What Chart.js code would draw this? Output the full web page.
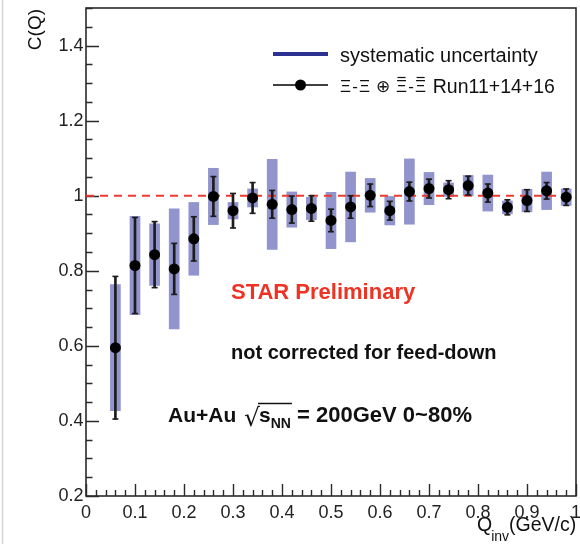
<!DOCTYPE html>
<html>
<head>
<meta charset="utf-8">
<script src="https://cdn.jsdelivr.net/npm/chart.js@4.4.1/dist/chart.umd.min.js"></script>
<style>
  html, body { margin:0; padding:0; background:#fff; }
  #c { display:block; }
</style>
</head>
<body>
<canvas id="c" width="580" height="544"></canvas>
<script>
/* C(Q) for Ξ-Ξ pairs, STAR Au+Au 200 GeV: stat bars + syst boxes, ROOT-like frame. */

const Q_INV   = [0.06,0.10,0.14,0.18,0.22,0.26,0.30,0.34,0.38,0.42,0.46,0.50,
                 0.54,0.58,0.62,0.66,0.70,0.74,0.78,0.82,0.86,0.90,0.94,0.98];
const C_Q     = [0.595,0.814,0.843,0.805,0.885,0.998,0.960,0.994,0.977,0.963,0.966,0.934,
                 0.970,1.001,0.960,1.011,1.019,1.016,1.027,1.007,0.969,0.987,1.013,0.996];
const STAT_ERR= [0.190,0.128,0.088,0.068,0.059,0.053,0.046,0.041,0.037,0.036,0.034,0.030,
                 0.030,0.030,0.025,0.025,0.025,0.024,0.025,0.024,0.020,0.029,0.022,0.022];
const SYS_ERR = [0.168,0.131,0.082,0.160,0.097,0.075,0.022,0.024,0.120,0.047,0.030,0.075,
                 0.093,0.045,0.038,0.087,0.043,0.018,0.027,0.048,0.017,0.030,0.050,0.022];
const REF_LEVEL = 1;

const X_TICKS = [0,0.1,0.2,0.3,0.4,0.5,0.6,0.7,0.8,0.9,1];
const Y_TICKS = [0.2,0.4,0.6,0.8,1,1.2,1.4];
const X_MINOR = 0.02, Y_MINOR = 0.05;

const LEG_SYS  = "systematic uncertainty";
const LEG_DATA = "Ξ-Ξ ⊕ Ξ̄-Ξ̄ Run11+14+16";

const FONT = "'Liberation Sans', Arial, Helvetica, sans-serif";
const AXIS_COL = "#2a2a2a";

const framePlugin = {
  id:"frame",
  beforeDraw(chart){
    const { ctx } = chart;
    ctx.save();
    ctx.strokeStyle = "#d4d4d4"; ctx.lineWidth = 1.5;
    ctx.beginPath(); ctx.moveTo(2.5,0); ctx.lineTo(2.5,544); ctx.stroke();
    ctx.restore();
  },
  beforeDatasetsDraw(chart){
    const { ctx, chartArea:a, scales } = chart;
    const xs = scales.x, ys = scales.y;
    ctx.save();
    ctx.strokeStyle = AXIS_COL; ctx.lineWidth = 1.6;
    ctx.strokeRect(a.left, a.top, a.right-a.left, a.bottom-a.top);
    ctx.beginPath();
    // y ticks (inward)
    for(let v = ys.min; v <= ys.max + 1e-9; v += Y_MINOR){
      const major = Y_TICKS.some(t => Math.abs(t - v) < 1e-6);
      const py = Math.round(ys.getPixelForValue(v)) + 0.5;
      ctx.moveTo(a.left, py); ctx.lineTo(a.left + (major ? 13 : 6.5), py);
    }
    // x ticks (inward)
    for(let v = xs.min; v <= xs.max + 1e-9; v += X_MINOR){
      const major = X_TICKS.some(t => Math.abs(t - v) < 1e-6);
      const px = Math.round(xs.getPixelForValue(v)) + 0.5;
      ctx.moveTo(px, a.bottom); ctx.lineTo(px, a.bottom - (major ? 12 : 6));
    }
    ctx.lineWidth = 1.4;
    ctx.stroke();

    // tick labels
    ctx.fillStyle = "#222";
    ctx.font = "18px " + FONT;
    ctx.textAlign = "right"; ctx.textBaseline = "middle";
    Y_TICKS.forEach(v => ctx.fillText(String(v), a.left - 2.5, ys.getPixelForValue(v) + 0.5));
    ctx.textAlign = "center"; ctx.textBaseline = "alphabetic";
    X_TICKS.forEach(v => ctx.fillText(String(v), xs.getPixelForValue(v), a.bottom + 22));
    ctx.restore();
  }
};

const annotPlugin = {
  id:"annot",
  afterDraw(chart){
    const { ctx } = chart;
    ctx.save();
    ctx.fillStyle = "#111";

    // y title
    ctx.save();
    ctx.translate(36, 9); ctx.rotate(-Math.PI/2);
    ctx.font = "19px " + FONT; ctx.textAlign = "right"; ctx.textBaseline = "middle";
    ctx.fillText("C(Q)", 0, 0);
    ctx.restore();

    // x title Q_inv(GeV/c)
    ctx.textAlign = "left"; ctx.textBaseline = "alphabetic";
    let x = 477;
    ctx.font = "19.5px " + FONT; ctx.fillText("Q", x, 531); x += ctx.measureText("Q").width;
    ctx.font = "14px " + FONT; ctx.fillText("inv", x - 1, 541); x += ctx.measureText("inv").width - 1;
    ctx.font = "19.5px " + FONT; ctx.fillText("(GeV/c)", x, 531);

    // legend
    ctx.strokeStyle = "#2d3192"; ctx.lineWidth = 4;
    ctx.beginPath(); ctx.moveTo(273, 54); ctx.lineTo(328, 54); ctx.stroke();
    ctx.strokeStyle = "#000"; ctx.lineWidth = 1.5;
    ctx.beginPath(); ctx.moveTo(273, 85); ctx.lineTo(328, 85); ctx.stroke();
    ctx.fillStyle = "#000";
    ctx.beginPath(); ctx.arc(300.5, 85, 5.5, 0, Math.PI*2); ctx.fill();

    ctx.fillStyle = "#111";
    ctx.font = "20px " + FONT;
    ctx.fillText(LEG_SYS, 340, 61.5);

    const parts = [["Ξ",0],["-",0],["Ξ",0],[" ⊕ ",0],["Ξ",1],["-",0],["Ξ",1]];
    x = 340;
    ctx.font = "17px " + FONT;
    ctx.strokeStyle = "#111"; ctx.lineWidth = 1.2;
    parts.forEach(([s, bar]) => {
      const w = ctx.measureText(s).width;
      ctx.fillText(s, x, 92);
      if(bar){ ctx.beginPath(); ctx.moveTo(x+1.5, 77.5); ctx.lineTo(x+w-1.5, 77.5); ctx.stroke(); }
      x += w + 1.2;
    });
    ctx.font = "19.5px " + FONT;
    ctx.fillText(" Run11+14+16", x, 93);

    // annotations
    ctx.font = "bold 22px " + FONT;
    ctx.fillStyle = "#ec3324";
    ctx.fillText("STAR Preliminary", 231, 299);
    ctx.fillStyle = "#111";
    ctx.font = "bold 20px " + FONT;
    ctx.fillText("not corrected for feed-down", 231, 359);

    ctx.font = "bold 21px " + FONT;
    x = 168;
    ctx.fillText("Au+Au ", x, 421.5); x += ctx.measureText("Au+Au ").width;
    ctx.font = "25px 'DejaVu Sans', sans-serif";
    ctx.fillText("√", x + 2, 426);
    const rw = ctx.measureText("√").width;
    const sx = x + 1 + rw;
    x = sx;
    ctx.font = "bold 21px " + FONT;
    ctx.fillText("s", x, 421.5); x += ctx.measureText("s").width;
    ctx.font = "bold 14px " + FONT;
    ctx.fillText("NN", x, 428); x += ctx.measureText("NN").width;
    ctx.strokeStyle = "#111"; ctx.lineWidth = 1.5;
    ctx.beginPath(); ctx.moveTo(sx - 1, 403.5); ctx.lineTo(x + 1, 403.5); ctx.stroke();
    ctx.font = "bold 22px " + FONT;
    ctx.fillText(" = 200GeV 0~80%", x, 421.5);
    ctx.restore();
  }
};

const sysData  = Q_INV.map((q,i) => ({ x:q, y:[C_Q[i]-SYS_ERR[i], C_Q[i]+SYS_ERR[i]] }));
const statData = Q_INV.map((q,i) => ({ x:q, y:[C_Q[i]-STAT_ERR[i], C_Q[i]+STAT_ERR[i]] }));
const capData  = Q_INV.flatMap((q,i) => [{ x:q, y:C_Q[i]+STAT_ERR[i] }, { x:q, y:C_Q[i]-STAT_ERR[i] }]);
const ptData   = Q_INV.map((q,i) => ({ x:q, y:C_Q[i] }));

new Chart(document.getElementById("c"), {
  type:"bar",
  data:{ datasets:[
    { type:"bar", label:LEG_SYS, data:sysData, backgroundColor:"#9194cd", borderWidth:0,
      barThickness:10, grouped:false, order:5 },
    { type:"line", label:"ref", data:[{x:0,y:REF_LEVEL},{x:1,y:REF_LEVEL}], borderColor:"#ef3a2f",
      borderWidth:2, borderDash:[8,6], pointRadius:0, order:4 },
    { type:"bar", label:"stat", data:statData, backgroundColor:"#1c1c1c", borderWidth:0,
      barThickness:2, grouped:false, order:3 },
    { type:"scatter", label:"caps", data:capData, pointStyle:"line", pointRadius:3,
      pointBorderColor:"#1c1c1c", pointBorderWidth:1.6, order:2 },
    { type:"scatter", label:LEG_DATA, data:ptData, pointStyle:"circle", pointRadius:5.5,
      pointBackgroundColor:"#000", pointBorderColor:"#000", pointBorderWidth:0, order:1 }
  ]},
  options:{
    responsive:false, animation:false, events:[],
    layout:{ padding:{ left:0, top:8, right:4, bottom:0 }, autoPadding:false },
    plugins:{ legend:{ display:false }, tooltip:{ enabled:false } },
    scales:{
      x:{ type:"linear", min:0, max:1, offset:false,
        grid:{ display:false, drawTicks:false }, border:{ display:false },
        afterFit(s){ s.height = 48; },
        afterBuildTicks(s){ s.ticks = X_TICKS.map(v => ({ value:v })); },
        ticks:{ display:false } },
      y:{ type:"linear", min:0.2, max:1.5,
        grid:{ display:false, drawTicks:false }, border:{ display:false },
        afterFit(s){ s.width = 86; },
        afterBuildTicks(s){ s.ticks = Y_TICKS.map(v => ({ value:v })); },
        ticks:{ display:false } }
    }
  },
  plugins:[framePlugin, annotPlugin]
});
</script>
</body>
</html>
